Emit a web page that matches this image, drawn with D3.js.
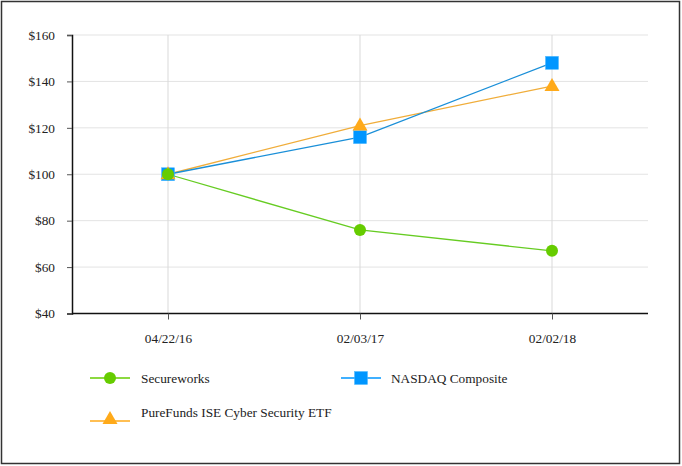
<!DOCTYPE html>
<html><head><meta charset="utf-8">
<script src="https://cdn.jsdelivr.net/npm/d3@7"></script>
<style>body{margin:0;background:#fff}svg{display:block}</style>
</head><body><svg id="c" width="682" height="466" font-family="Liberation Serif" font-size="13"></svg>
<script>
const dates = ["04/22/16","02/03/17","02/02/18"];
const secureworks = [100,76,67];
const nasdaq = [100,116,148];
const purefunds = [100,121,138];
const yTicks = [40,60,80,100,120,140,160];
const seriesNames = ["Secureworks","NASDAQ Composite","PureFunds ISE Cyber Security ETF"];

const FONT = "Liberation Serif", FS = 13.3;
const svg = d3.select("#c");
svg.append("rect").attr("x",1.5).attr("y",1.5).attr("width",678).attr("height",462)
  .attr("fill","#fff").attr("stroke","#333").attr("stroke-width",1.5);

const L=72,R=648,T=35,B=313.5;
const x = d3.scalePoint().domain(dates).range([L,R]).padding(0.5);
const y = d3.scaleLinear().domain([40,160]).range([B,T]);

svg.append("g").selectAll("line").data(yTicks.slice(1)).join("line")
  .attr("x1",L).attr("x2",R).attr("y1",d=>y(d)).attr("y2",d=>y(d))
  .attr("stroke","#e3e3e3").attr("stroke-width",1);
svg.append("g").selectAll("line").data(dates).join("line")
  .attr("x1",d=>x(d)).attr("x2",d=>x(d)).attr("y1",T).attr("y2",B)
  .attr("stroke","#d9d9d9").attr("stroke-width",1);

const ya = svg.append("g").attr("transform",`translate(${L},0)`)
  .call(d3.axisLeft(y).tickValues(yTicks).tickFormat(d=>"$"+d).tickSize(5).tickPadding(12));
ya.attr("font-family",FONT).attr("font-size",FS);
ya.select(".domain").attr("stroke","#111").attr("stroke-width",1.5);
ya.selectAll(".tick line").attr("stroke","#555");
ya.selectAll("text").attr("fill","#222");
const xa = svg.append("g").attr("transform",`translate(0,${B})`)
  .call(d3.axisBottom(x).tickSize(6).tickPadding(14).tickSizeOuter(0));
xa.attr("font-family",FONT).attr("font-size",FS);
xa.select(".domain").attr("stroke","#111").attr("stroke-width",1.5).attr("d",`M${L},0H${R}`);
xa.selectAll(".tick line").attr("stroke","#555");
xa.selectAll("text").attr("fill","#222");

const series = [
  {name:seriesNames[0],vals:secureworks,color:"#66cc00",line:"#66cc22",shape:"circle"},
  {name:seriesNames[2],vals:purefunds,color:"#ffaa1a",line:"#f0ad3a",shape:"triangle"},
  {name:seriesNames[1],vals:nasdaq,color:"#0096ff",line:"#1a8fd8",shape:"square"}
];
const line = d3.line().x((d,i)=>x(dates[i])).y(d=>y(d));
function marker(g,shape,color,cx,cy){
  if(shape==="circle") g.append("circle").attr("cx",cx).attr("cy",cy).attr("r",6).attr("fill",color);
  else if(shape==="square") g.append("rect").attr("x",cx-6.5).attr("y",cy-6.5).attr("width",13).attr("height",13).attr("fill",color).attr("stroke","#4db8ff").attr("stroke-width",0.5);
  else g.append("path").attr("d",`M${cx},${cy-8}L${cx+7.5},${cy+5}L${cx-7.5},${cy+5}Z`).attr("fill",color);
}
series.forEach(s=>{
  svg.append("path").attr("d",line(s.vals)).attr("fill","none").attr("stroke",s.line).attr("stroke-width",1.3);
});
[series[2],series[1],series[0]].forEach(s=>{
  const g=svg.append("g");
  s.vals.forEach((v,i)=>marker(g,s.shape,s.color,x(dates[i]),y(v)));
});

const leg=[
  {s:series[0],lx:90,ly:378,tx:141,ty:383},
  {s:series[2],lx:341,ly:378,tx:391,ty:383},
  {s:series[1],lx:90,ly:421,tx:141,ty:417}
];
leg.forEach(l=>{
  const g=svg.append("g");
  g.append("line").attr("x1",l.lx).attr("x2",l.lx+40).attr("y1",l.ly).attr("y2",l.ly).attr("stroke",l.s.color).attr("stroke-width",1.5);
  marker(g,l.s.shape,l.s.color,l.lx+20,l.s.shape==="triangle"?l.ly-2:l.ly);
  g.append("text").attr("x",l.tx).attr("y",l.ty).attr("font-family",FONT).attr("font-size",FS).attr("fill","#222").text(l.s.name);
});
</script></body></html>
